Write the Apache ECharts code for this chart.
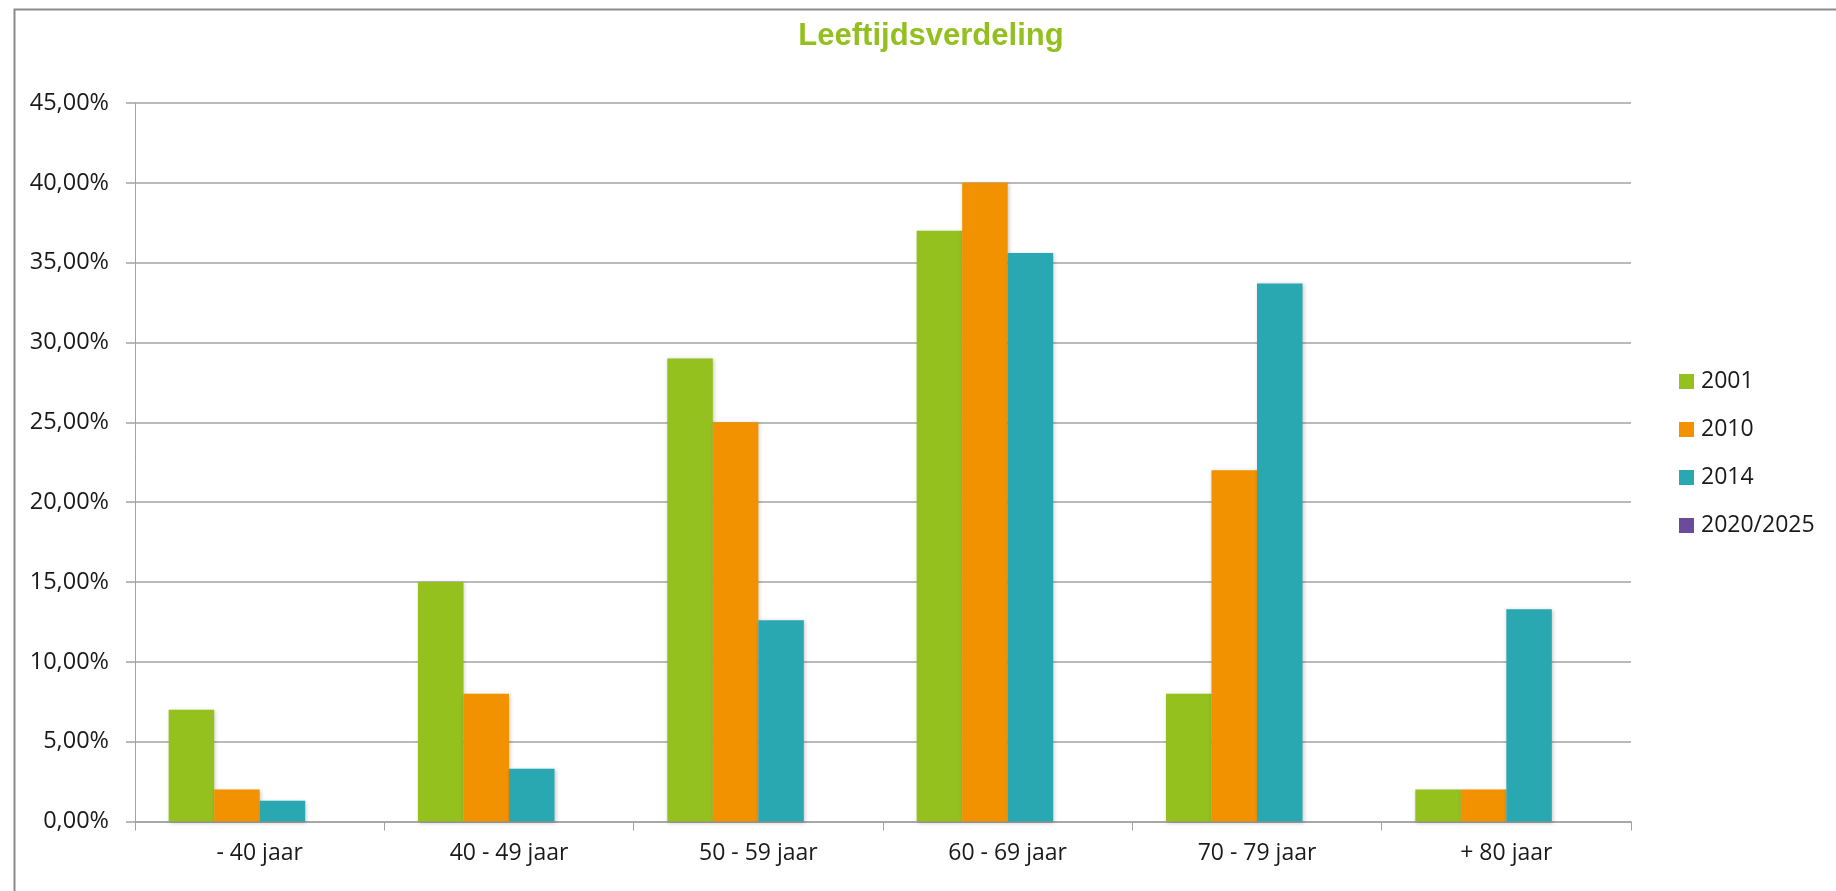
<!DOCTYPE html>
<html>
<head>
<meta charset="utf-8">
<title>Leeftijdsverdeling</title>
<script src="https://cdn.jsdelivr.net/npm/echarts@6/dist/echarts.min.js"></script>
<style>
  html, body { margin: 0; padding: 0; background: #ffffff; }
  #chart { width: 1836px; height: 891px; }
</style>
</head>
<body>
<div id="chart"></div>
<script>
// Age groups along the x axis
const categories = ['- 40 jaar', '40 - 49 jaar', '50 - 59 jaar', '60 - 69 jaar', '70 - 79 jaar', '+ 80 jaar'];

// Share of members per age group (%), one array per year
const seriesNames = ['2001', '2010', '2014', '2020/2025'];
const values2001 = [7, 15, 29, 37, 8, 2];
const values2010 = [2, 8, 25, 40, 22, 2];
const values2014 = [1.3, 3.3, 12.6, 35.6, 33.7, 13.3];
const values2020 = [];

// Value axis range and step (%)
const yMin = 0;
const yMax = 45;
const yStep = 5;

const colors = ['#95c11f', '#f39200', '#2aa8b2', '#6b4c9a'];
const seriesValues = [values2001, values2010, values2014, values2020];

const textFont = '"Open Sans", "DejaVu Sans", sans-serif';
const chart = echarts.init(document.getElementById('chart'), null, { renderer: 'canvas' });

const option = {
  backgroundColor: '#ffffff',
  animation: false,
  color: colors,
  title: {
    text: 'Leeftijdsverdeling',
    left: 926,
    textAlign: 'center',
    top: 16,
    textStyle: {
      color: '#93c01f',
      fontFamily: '"Liberation Sans", Arial, sans-serif',
      fontWeight: 'bold',
      fontSize: 31
    }
  },
  legend: {
    orient: 'vertical',
    left: 1674,
    top: 365,
    itemWidth: 15,
    itemHeight: 15,
    itemGap: 25,
    icon: 'rect',
    data: seriesNames,
    textStyle: { color: '#1a1a1a', fontFamily: textFont, fontSize: 23, padding: [0, 0, 0, 2] }
  },
  grid: { left: 135, right: 205, top: 103, bottom: 69.5, containLabel: false },
  xAxis: {
    type: 'category',
    data: categories,
    boundaryGap: true,
    axisLine: { lineStyle: { color: '#a3a3a3', width: 1.5 } },
    axisTick: { show: true, length: 9, lineStyle: { color: '#a3a3a3', width: 1 } },
    axisLabel: { color: '#1a1a1a', fontFamily: textFont, fontSize: 23, margin: 20 }
  },
  yAxis: {
    type: 'value',
    min: yMin,
    max: yMax,
    interval: yStep,
    axisLine: { show: true, lineStyle: { color: '#a3a3a3', width: 1 } },
    axisTick: { show: true, length: 9, lineStyle: { color: '#a3a3a3', width: 1.5 } },
    splitLine: { show: true, lineStyle: { color: '#a3a3a3', width: 1.5 } },
    axisLabel: {
      color: '#1a1a1a',
      fontFamily: textFont,
      fontSize: 23.5,
      margin: 26,
      formatter: v => v.toFixed(2).replace('.', ',') + '%'
    }
  },
  series: seriesNames.map((name, i) => ({
    name: name,
    type: 'bar',
    data: seriesValues[i],
    barGap: '0%',
    barCategoryGap: '27%',
    itemStyle: {
      color: colors[i],
      shadowColor: 'rgba(0,0,0,0.22)',
      shadowBlur: 4,
      shadowOffsetX: 1,
      shadowOffsetY: 1
    }
  })),
  graphic: [{
    type: 'rect',
    left: 12,
    top: 7,
    z: -1,
    shape: { width: 2000, height: 2000 },
    style: { fill: 'none', stroke: '#8a8a8a', lineWidth: 2 }
  }]
};

chart.setOption(option);
</script>
</body>
</html>
